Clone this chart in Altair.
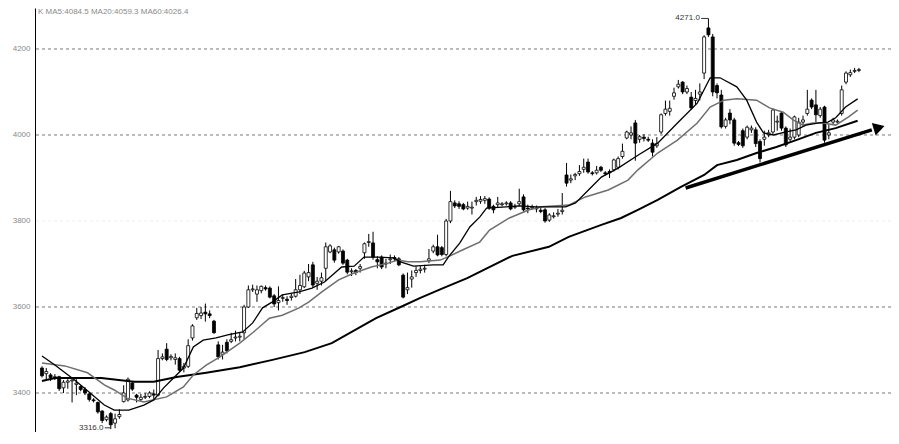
import altair as alt
import pandas as pd

# ---- candle data (index, open, high, low, close) ----
opens = [3458,3445,3442,3436,3438,3412,3425,3428,3420,3415,
         3408,3398,3384,3378,3358,3338,3352,3330,3345,3380,
         3384,3423,3395,3385,3390,3392,3398,3395,3480,3502,
         3482,3478,3480,3458,3462,3528,3575,3580,3588,3584,
         3567,3512,3490,3518,3520,3528,3530,3540,3600,3640,
         3630,3638,3645,3644,3626,3610,3620,3618,3622,3625,
         3640,3647,3670,3698,3655,3660,3690,3728,3733,3728,
         3730,3709,3682,3685,3690,3726,3750,3749,3710,3716,
         3700,3710,3715,3712,3674,3640,3665,3680,3685,3688,
         3708,3730,3740,3738,3722,3800,3842,3840,3838,3830,
         3830,3845,3846,3848,3851,3834,3838,3838,3840,3842,
         3832,3840,3856,3830,3830,3830,3825,3826,3802,3810,
         3816,3822,3907,3895,3905,3910,3920,3937,3912,3912,
         3925,3912,3915,3919,3925,3950,3993,4000,4028,3990,
         3995,3990,3981,3975,4007,4050,4055,4090,4112,4123,
         4100,4088,4080,4095,4144,4249,4228,4115,4093,4020,
         4051,4035,3982,4010,3995,4012,4012,3985,3990,4000,
         4007,4030,4051,4016,3990,3995,4000,4030,4050,4081,
         4070,4045,4065,4000,4030,4030,4050,4123,4140,4148,
         4150]
highs = [3462,3458,3446,3444,3440,3430,3432,3434,3432,3418,
         3414,3400,3388,3380,3360,3348,3356,3352,3362,3418,
         3436,3428,3398,3398,3400,3404,3408,3500,3492,3516,
         3490,3492,3484,3470,3525,3560,3598,3600,3608,3592,
         3570,3520,3512,3525,3540,3545,3540,3605,3650,3652,
         3650,3650,3650,3648,3630,3648,3630,3625,3632,3665,
         3675,3684,3700,3705,3670,3680,3750,3746,3738,3742,
         3734,3712,3690,3688,3700,3750,3770,3775,3718,3720,
         3712,3722,3720,3716,3678,3680,3685,3695,3695,3698,
         3735,3745,3768,3742,3805,3870,3848,3846,3842,3845,
         3845,3856,3858,3858,3855,3838,3856,3844,3846,3846,
         3840,3875,3862,3838,3838,3836,3830,3830,3818,3820,
         3828,3865,3935,3908,3912,3930,3945,3945,3916,3928,
         3928,3916,3920,3945,3950,3980,4010,4020,4035,4000,
         4002,3996,3990,3995,4050,4080,4080,4110,4128,4125,
         4115,4100,4105,4120,4232,4271,4235,4120,4105,4040,
         4060,4040,3986,4015,4022,4022,4018,3990,4010,4012,
         4062,4045,4055,4020,4015,4045,4040,4045,4105,4085,
         4105,4065,4068,4025,4040,4036,4115,4148,4152,4156,
         4156]
lows = [3436,3432,3428,3430,3405,3400,3410,3378,3395,3404,
        3395,3380,3378,3352,3330,3334,3316,3318,3340,3378,
        3380,3405,3378,3380,3386,3388,3386,3392,3476,3474,
        3476,3466,3450,3448,3458,3522,3570,3572,3566,3574,
        3538,3478,3478,3492,3516,3520,3520,3525,3598,3635,
        3612,3632,3638,3620,3600,3592,3612,3605,3615,3622,
        3630,3644,3660,3645,3640,3650,3660,3725,3703,3724,
        3698,3676,3672,3674,3680,3712,3740,3710,3690,3688,
        3690,3700,3706,3695,3620,3630,3645,3670,3678,3680,
        3702,3725,3718,3718,3718,3795,3830,3828,3825,3826,
        3815,3836,3840,3840,3826,3818,3832,3834,3836,3825,
        3828,3835,3822,3818,3826,3820,3818,3796,3798,3806,
        3810,3815,3880,3888,3895,3905,3912,3910,3906,3908,
        3914,3906,3900,3915,3920,3945,3990,3990,3940,3982,
        3985,3984,3950,3970,4002,4045,4045,4082,4108,4095,
        4095,4058,4070,4080,4130,4228,4090,4085,4015,4015,
        4025,3975,3974,3970,3990,4005,3972,3936,3975,3995,
        4002,4010,4010,3972,3985,3990,3995,4020,4045,4060,
        4030,4040,3982,3990,4025,4028,4045,4118,4135,4144,
        4146]
closes = [3440,3450,3436,3438,3410,3425,3428,3430,3423,3408,
          3400,3385,3382,3356,3336,3344,3326,3340,3350,3400,
          3432,3409,3390,3390,3392,3400,3395,3480,3484,3478,
          3485,3482,3453,3462,3510,3556,3585,3586,3584,3580,
          3540,3484,3495,3498,3524,3530,3532,3600,3640,3642,
          3640,3648,3642,3623,3607,3615,3622,3615,3625,3640,
          3650,3679,3680,3651,3660,3668,3740,3742,3709,3740,
          3702,3681,3684,3680,3694,3747,3752,3716,3705,3693,
          3702,3712,3712,3698,3623,3645,3670,3685,3688,3690,
          3712,3740,3721,3722,3800,3845,3835,3834,3828,3834,
          3832,3848,3850,3852,3830,3826,3842,3840,3842,3828,
          3834,3845,3826,3828,3832,3828,3822,3800,3814,3812,
          3818,3825,3888,3898,3908,3915,3925,3914,3910,3918,
          3918,3910,3912,3942,3945,3962,4007,4005,3981,3996,
          3992,3988,3960,3980,4047,4060,4062,4098,4118,4100,
          4108,4063,4085,4100,4228,4233,4100,4098,4019,4035,
          4035,3981,3978,3975,4018,4016,3980,3945,3995,4005,
          4058,4032,4016,3977,3995,4042,4030,4035,4060,4065,
          4047,4060,3988,4005,4035,4032,4105,4144,4145,4150,
          4152]

# ---- moving averages (candle index, price) ----
ma5_i = [0,3,7.6,11,14.5,16.8,20.2,23.7,26,28.3,30.6,32.9,35.2,37.5,40.5,43.2,46.7,49,51.3,53.6,
         55.9,59.8,62.8,65.7,69.7,72.6,74.9,78.2,81.8,83.4,86.4,91,93.3,94.5,97.2,99.5,101.8,103.4,
         111,114.9,121.8,124.1,127.1,130.1,134,138.6,143.2,147.8,152.4,155.4,157.7,161.6,163.9,
         166.2,167.8,170.1,173.1,175.4,177.7,180.7,182.8,184.6,186.9,189.7]
ma5_v = [3486,3465,3430,3402,3372,3360,3360,3372,3384,3412,3435,3458,3507,3523,3528,3535,3542,3563,3598,3612,
         3628,3635,3644,3658,3693,3695,3716,3716,3714,3705,3695,3698,3698,3716,3749,3786,3809,3830,
         3835,3833,3833,3842,3872,3902,3923,3953,3981,4028,4074,4133,4133,4112,4081,
         4030,4005,4000,4007,4012,4023,4028,4030,4040,4065,4084]
ma20_i = [0,5.3,10.6,14.5,16.8,19.8,23.7,29,32.9,35.2,38.2,41.4,46,49,52.9,55.9,59.8,62.1,65.1,69,
          72.6,76.6,80.5,82.8,85.1,88,92.6,94.3,97.9,101.8,104.1,108.7,113.3,116.3,122.5,126.4,131.7,
          136.3,138.6,143.2,147.8,152.4,155.4,158.6,161.6,166.2,169.2,172.4,174.7,177,179.3,181.6,
          184.6,187.6,189.7]
ma20_v = [3470,3463,3447,3419,3407,3388,3379,3391,3414,3442,3465,3484,3516,3540,3574,3581,3598,3612,3635,3663,
          3679,3693,3702,3709,3705,3705,3709,3716,3733,3751,3779,3807,3826,3833,3837,3856,3872,
          3895,3919,3958,3988,4028,4065,4081,4084,4081,4063,4053,4035,4023,4028,4028,
          4023,4042,4058]
ma60_i = [0,3,13.8,21.4,26,31.3,38.2,46,53.6,61.1,67.4,77.7,83.4,88,93.3,98.9,109.4,117.9,122.5,130.1,
          134.7,138.6,143.2,148.5,154,157,161.6,166.2,170.8,175.4,180,184.6,189.7]
ma60_v = [3428,3435,3435,3426,3426,3437,3447,3460,3477,3495,3516,3574,3600,3621,3644,3667,3719,3740,3763,3791,
          3807,3826,3849,3879,3907,3930,3942,3958,3972,3988,4005,4016,4033]

# ---- axis / grid / annotations ----
tick_values = [3400, 3600, 3800, 4000, 4200]
grid_levels = [4200, 4000, 3800, 3600, 3400]
grid_alpha = [1, 1, 0.12, 1, 1]
title_text = "K   MA5:4084.5  MA20:4059.3  MA60:4026.4"
hi_label, hi_i, hi_p = "4271.0", 153.0, 4271
lo_label, lo_i, lo_p = "3316.0", 14.3, 3319
arrow_start = (149.7, 3876.7)
arrow_end = (193.0, 4012.0)
arrow_head = (194.7, 4017.0)

df = pd.DataFrame({"i": list(range(len(opens))), "open": opens, "high": highs,
                   "low": lows, "close": closes})
df["dir"] = ["up" if c > o else "down" for o, c in zip(opens, closes)]

xs = alt.Scale(domain=[-0.46, 196.3], nice=False, zero=False)
ys = alt.Scale(domain=[3309.3, 4295.3], nice=False, zero=False)
yax = alt.Axis(values=tick_values, grid=False, ticks=False, domain=True, domainColor="black",
               domainWidth=1, labelColor="#8a8a8a", labelFontSize=8, labelPadding=5,
               labelFont="Liberation Sans", title=None, format="d")
FONT = "Liberation Sans"


def X(f):
    return alt.X(f, type="quantitative", scale=xs, axis=None)


def Y(f):
    return alt.Y(f, type="quantitative", scale=ys, axis=yax)


grid_df = pd.DataFrame({"p": grid_levels, "a": grid_alpha})
grid = alt.Chart(grid_df).mark_rule(color="#777", strokeWidth=1, strokeDash=[3, 3]).encode(
    y=Y("p"), opacity=alt.Opacity("a:Q", scale=None, legend=None))

wicks = alt.Chart(df).mark_rule(color="black", strokeWidth=1).encode(
    x=X("i"), y=Y("low"), y2="high")
bodies = alt.Chart(df).mark_bar(size=3, stroke="black", strokeWidth=0.8).encode(
    x=X("i"), y=Y("open"), y2="close",
    fill=alt.Fill("dir:N", scale=alt.Scale(domain=["up", "down"], range=["white", "black"]),
                  legend=None))

ma5 = alt.Chart(pd.DataFrame({"i": ma5_i, "v": ma5_v})).mark_line(
    color="black", strokeWidth=1.3).encode(x=X("i"), y=Y("v"))
ma20 = alt.Chart(pd.DataFrame({"i": ma20_i, "v": ma20_v})).mark_line(
    color="#6e6e6e", strokeWidth=1.5).encode(x=X("i"), y=Y("v"))
ma60 = alt.Chart(pd.DataFrame({"i": ma60_i, "v": ma60_v})).mark_line(
    color="black", strokeWidth=2).encode(x=X("i"), y=Y("v"))

arrow_df = pd.DataFrame({"i": [arrow_start[0]], "p": [arrow_start[1]],
                         "i2": [arrow_end[0]], "p2": [arrow_end[1]]})
arrow_line = alt.Chart(arrow_df).mark_rule(color="black", strokeWidth=3.5).encode(
    x=X("i"), y=Y("p"), x2="i2", y2="p2")
head_df = pd.DataFrame({"i": [arrow_head[0]], "p": [arrow_head[1]]})
arrow_head_mark = alt.Chart(head_df).mark_point(
    shape="triangle-right", size=170, filled=True, color="black", opacity=1, angle=343).encode(
    x=X("i"), y=Y("p"))

lab_df = pd.DataFrame({"i": [hi_i, lo_i], "p": [hi_p, lo_p], "t": [hi_label, lo_label]})
labels = alt.Chart(lab_df).mark_text(align="right", baseline="middle", fontSize=8,
                                     font=FONT, color="#333").encode(
    x=X("i"), y=Y("p"), text="t:N")
lead_df = pd.DataFrame({"i": [hi_i + 0.3, lo_i + 0.3], "p": [hi_p, lo_p],
                        "i2": [155, 16], "p2": [hi_p, lo_p]})
leads = alt.Chart(lead_df).mark_rule(color="#333", strokeWidth=1).encode(
    x=X("i"), y=Y("p"), x2="i2", y2="p2")

title = alt.Chart(pd.DataFrame({"t": [title_text]})).mark_text(
    align="left", baseline="top", fontSize=8, font=FONT, color="#8a8a8a").encode(
    x=alt.value(3), y=alt.value(0), text="t:N")

chart = alt.layer(grid, wicks, bodies, ma60, ma20, ma5, arrow_line, arrow_head_mark,
                  leads, labels, title).properties(
    width=856, height=424,
    padding={"left": 27, "top": 0, "right": 0, "bottom": 0},
    autosize=alt.AutoSizeParams(type="none"),
    background="white",
).configure_view(stroke=None)

chart.save("out.html", embed_options={"renderer": "svg", "actions": False})
